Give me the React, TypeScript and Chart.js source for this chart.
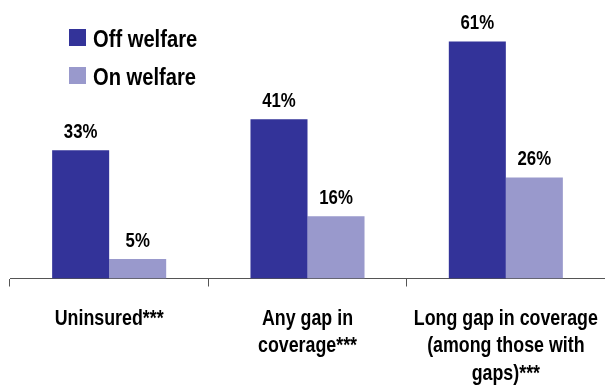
import React, { useEffect, useRef } from "react";
import { Chart, registerables } from "chart.js";

Chart.register(...registerables);

const categories: string[][] = [
  ["Uninsured***"],
  ["Any gap in", "coverage***"],
  ["Long gap in coverage", "(among those with", "gaps)***"],
];
const offWelfare: number[] = [33, 41, 61];
const onWelfare: number[] = [5, 16, 26];
const seriesNames: string[] = ["Off welfare", "On welfare"];
const seriesColors: string[] = ["#333399", "#9999cc"];

const FONT = "'Liberation Sans', Arial, sans-serif";

function narrowText(
  ctx: CanvasRenderingContext2D,
  text: string,
  x: number,
  y: number,
  align: "left" | "center",
  sx: number
) {
  ctx.save();
  ctx.translate(x, y);
  ctx.scale(sx, 1);
  ctx.textAlign = align;
  ctx.fillText(text, 0, 0);
  ctx.restore();
}

const valueLabels = {
  id: "valueLabels",
  afterDatasetsDraw(chart: any) {
    const ctx = chart.ctx;
    ctx.save();
    ctx.font = `bold 21px ${FONT}`;
    ctx.fillStyle = "#000";
    ctx.textBaseline = "alphabetic";
    chart.data.datasets.forEach((ds: any, i: number) => {
      const meta = chart.getDatasetMeta(i);
      meta.data.forEach((el: any, j: number) => {
        narrowText(ctx, `${ds.data[j]}%`, el.x, el.y - 12.5, "center", 0.8);
      });
    });
    ctx.restore();
  },
};

const categoryLabels = {
  id: "categoryLabels",
  afterDraw(chart: any) {
    const ctx = chart.ctx;
    const xs = chart.scales.x;
    ctx.save();
    ctx.font = `bold 22px ${FONT}`;
    ctx.fillStyle = "#000";
    ctx.textBaseline = "alphabetic";
    (chart.data.labels as string[][]).forEach((lines, i) => {
      const x = xs.getPixelForTick(i);
      lines.forEach((line, k) => {
        narrowText(ctx, line, x, chart.chartArea.bottom + 46 + 27.5 * k, "center", 0.81);
      });
    });
    ctx.restore();
  },
};

const insideLegend = {
  id: "insideLegend",
  afterDraw(chart: any) {
    const ctx = chart.ctx;
    ctx.save();
    ctx.font = `bold 24px ${FONT}`;
    ctx.textBaseline = "alphabetic";
    chart.data.datasets.forEach((ds: any, i: number) => {
      const y = 29 + 38 * i;
      ctx.fillStyle = ds.backgroundColor;
      ctx.fillRect(69, y, 17, 17);
      ctx.fillStyle = "#000";
      narrowText(ctx, ds.label, 93, y + 17.5, "left", 0.84);
    });
    ctx.restore();
  },
};

export default function App() {
  const ref = useRef<HTMLCanvasElement>(null);
  useEffect(() => {
    if (!ref.current) return;
    const chart = new Chart(ref.current, {
      type: "bar",
      data: {
        labels: categories,
        datasets: [
          { label: seriesNames[0], data: offWelfare, backgroundColor: seriesColors[0] },
          { label: seriesNames[1], data: onWelfare, backgroundColor: seriesColors[1] },
        ],
      },
      options: {
        responsive: false,
        animation: false,
        layout: { padding: { left: 10, right: 0, top: 6.5, bottom: 105.5 } },
        datasets: { bar: { categoryPercentage: 0.575, barPercentage: 1 } },
        plugins: {
          legend: { display: false },
          tooltip: { enabled: false },
        },
        scales: {
          y: { display: false, min: 0, max: 70 },
          x: {
            grid: {
              display: true,
              drawOnChartArea: false,
              drawTicks: true,
              tickLength: 8,
              color: "#555",
              offset: true,
            },
            border: { display: true, color: "#555", width: 1 },
            ticks: { display: false },
          },
        },
      },
      plugins: [valueLabels, categoryLabels, insideLegend],
    });
    return () => chart.destroy();
  }, []);
  return (
    <div style={{ position: "fixed", left: 0, top: 0, width: 605, height: 392, background: "#fff" }}>
      <canvas ref={ref} width={605} height={392} />
    </div>
  );
}
